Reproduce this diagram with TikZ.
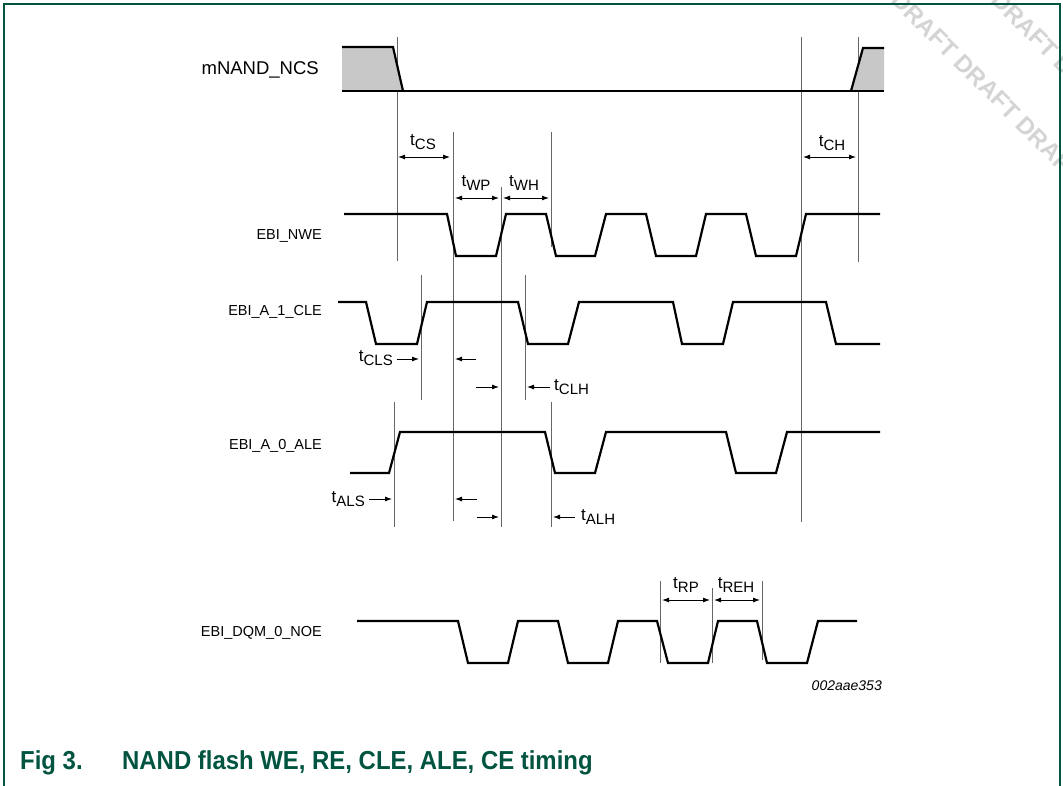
\documentclass[tikz,border=0pt]{standalone}
\usepackage{fontspec}
\usepackage{graphicx}
\setmainfont{Liberation Sans}
\usetikzlibrary{arrows.meta}
\definecolor{nxpgreen}{RGB}{0,84,64}
\definecolor{wmgray}{RGB}{212,212,212}
\definecolor{ncsgray}{RGB}{200,200,200}
\newcommand{\tlbl}[1]{t\raisebox{-4.5pt}{\fontsize{15}{15}\selectfont #1}}
\newcommand{\capsq}[1]{\scalebox{0.92}[1]{#1}}
\begin{document}
\begin{tikzpicture}[x=1pt,y=-1pt,
  sig/.style={line width=2.2pt, line join=miter, line cap=butt},
  vline/.style={line width=0.9pt, draw=black!60},
  arr/.style={line width=0.9pt, -{Latex[length=7pt,width=5pt]}},
  darr/.style={line width=0.9pt, {Latex[length=7pt,width=5pt]}-{Latex[length=7pt,width=5pt]}},
  siglab/.style={font=\fontsize{14.5}{15}\selectfont, inner sep=0pt, anchor=east},
  tlab/.style={font=\fontsize{17}{17}\selectfont, inner sep=0pt},
  wm/.style={text=wmgray, font=\bfseries\fontsize{24}{24}\selectfont, rotate=-45, anchor=west, inner sep=0pt},
  captxt/.style={text=nxpgreen, font=\bfseries\fontsize{26}{26}\selectfont, anchor=west, inner sep=0pt}]
\useasboundingbox (0,0) rectangle (1063,786);
\fill[white] (0,0) rectangle (1063,786);
% watermark
\begin{scope}
\clip (0,0) rectangle (1063,786);
\node[wm] (wm1) at (896,-4) {DRAFT DRAFT DRAFT DRAFT};
\node[wm] (wm2) at (996,-4) {DRAFT DRAFT DRAFT};
\end{scope}
% frame
\draw[nxpgreen, line width=1.4pt] (4,786) -- (4,4) -- (1060,4) -- (1060,786);

% vertical timing lines
\draw[vline] (397,37) -- (397,261);
\draw[vline] (453,132) -- (453,521);
\draw[vline] (501,187) -- (501,527);
\draw[vline] (551,132) -- (551,247);
\draw[vline] (421,275) -- (421,400);
\draw[vline] (525,275) -- (525,400);
\draw[vline] (394,402) -- (394,527);
\draw[vline] (551,402) -- (551,527);
\draw[vline] (801,37) -- (801,522);
\draw[vline] (858,37) -- (858,262);
\draw[vline] (660,581) -- (660,663);
\draw[vline] (712,588) -- (712,663);
\draw[vline] (762,581) -- (762,660);

% mNAND_NCS
\fill[ncsgray] (342,47) -- (393,47) -- (403,91) -- (342,91) -- cycle;
\fill[ncsgray] (851,91) -- (863,48) -- (884,48) -- (884,91) -- cycle;
\draw[sig] (342,47) -- (393,47) -- (403,91);
\draw[sig] (342,91) -- (884,91);
\draw[sig] (851,91) -- (863,48) -- (884,48);

% EBI_NWE
\draw[sig] (344,214) -- (447,214) -- (456,256) -- (496,256) -- (506,214) -- (546,214) -- (556,256) -- (595,256) -- (606,214) -- (646,214) -- (656,256) -- (696,256) -- (706,214) -- (746,214) -- (756,256) -- (796,256) -- (806,214) -- (880,214);
% EBI_A_1_CLE
\draw[sig] (338,302) -- (366,302) -- (376,344) -- (417,344) -- (427,302) -- (518,302) -- (528,344) -- (568,344) -- (579,302) -- (673,302) -- (682,344) -- (723,344) -- (733,302) -- (826,302) -- (836,344) -- (880,344);
% EBI_A_0_ALE
\draw[sig] (350,473) -- (389,473) -- (400,432) -- (545,432) -- (555,473) -- (595,473) -- (606,432) -- (726,432) -- (736,473) -- (776,473) -- (787,432) -- (880,432);
% EBI_DQM_0_NOE
\draw[sig] (357,621) -- (458,621) -- (468,663) -- (508,663) -- (518,621) -- (558,621) -- (568,663) -- (608,663) -- (618,621) -- (657,621) -- (668,663) -- (708,663) -- (718,621) -- (757,621) -- (767,663) -- (807,663) -- (818,621) -- (857,621);

% signal labels
\node[siglab, font=\fontsize{18.5}{18.5}\selectfont] (lncs) at (319,70) {mNAND\_NCS};
\node[siglab] (lnwe) at (322,236) {EBI\_NWE};
\node[siglab] (lcle) at (322,312) {EBI\_A\_1\_CLE};
\node[siglab] (lale) at (322,446) {EBI\_A\_0\_ALE};
\node[siglab] (lnoe) at (322,633) {EBI\_DQM\_0\_NOE};

% double arrows
\draw[darr] (398,157) -- (450,157);
\draw[darr] (455,198) -- (499,198);
\draw[darr] (503,198) -- (549,198);
\draw[darr] (803,157) -- (856,157);
\draw[darr] (662,600) -- (710,600);
\draw[darr] (714,600) -- (760,600);
\node[tlab] (tcs) at (423,142) {\tlbl{CS}};
\node[tlab] (twp) at (476,183) {\tlbl{WP}};
\node[tlab] (twh) at (524,183) {\tlbl{WH}};
\node[tlab] (tch) at (832,143) {\tlbl{CH}};
\node[tlab] (trp) at (686,585) {\tlbl{RP}};
\node[tlab] (treh) at (736,585) {\tlbl{REH}};

% single arrows CLE
\draw[arr] (397,359) -- (419,359);
\draw[arr] (476,359) -- (455,359);
\draw[arr] (476,387) -- (499,387);
\draw[arr] (550,387) -- (527,387);
\node[tlab, anchor=east] (tcls) at (393,358) {\tlbl{CLS}};
\node[tlab, anchor=west] (tclh) at (554,387) {\tlbl{CLH}};
% single arrows ALE
\draw[arr] (369,499) -- (392,499);
\draw[arr] (477,499) -- (455,499);
\draw[arr] (477,517) -- (499,517);
\draw[arr] (575,517) -- (553,517);
\node[tlab, anchor=east] (tals) at (365,499) {\tlbl{ALS}};
\node[tlab, anchor=west] (talh) at (581,517) {\tlbl{ALH}};

% id and caption
\node[font=\itshape\fontsize{14}{14}\selectfont, inner sep=0pt, anchor=east] (fid) at (882,686) {002aae353};
\node[captxt] (fig) at (20,763) {\capsq{Fig 3.}};
\node[captxt] (title) at (122,763) {\capsq{NAND flash WE, RE, CLE, ALE, CE timing}};
\end{tikzpicture}
\end{document}
